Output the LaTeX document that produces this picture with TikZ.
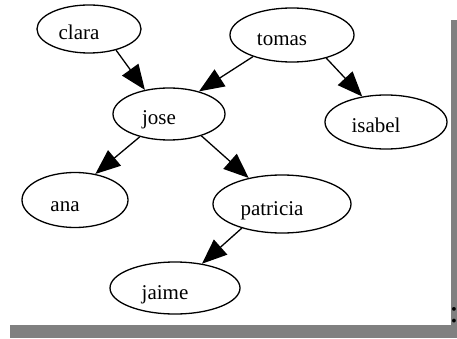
\documentclass[tikz,border=0pt]{standalone}
\usepackage{fontspec}
\setmainfont{Liberation Serif}
\usetikzlibrary{shapes.geometric, arrows.meta}
\definecolor{shadow}{RGB}{128,128,128}

\begin{document}
\begin{tikzpicture}[x=1pt, y=-1pt,
        person/.style = {draw, ellipse, line width=1.3pt, inner sep=0pt,
            font=\fontsize{21}{25}\selectfont, text height=22pt, text depth=0pt,
            execute at end node=\hspace{20pt}},
        link/.style = {->, line width=1.3pt},
        >={Triangle[length=25pt, width=20pt]}]
        \useasboundingbox (0,0) rectangle (457,339);
        % frame shadow
        \fill[shadow] (451,20) rectangle (457,325);
        \fill[shadow] (10,325) rectangle (457,338);
        \node (dots) at (454,315) {\fontsize{32}{36}\selectfont :};
        % people
        \node[person, minimum width=104pt, minimum height=48pt] (clara) at (89,29) {clara};
        \node[person, minimum width=124pt, minimum height=54pt] (tomas) at (292,35) {tomas};
        \node[person, minimum width=112pt, minimum height=52pt] (jose) at (169,114) {jose};
        \node[person, minimum width=122pt, minimum height=54pt] (isabel) at (386,122) {isabel};
        \node[person, minimum width=106pt, minimum height=55pt] (ana) at (75,200) {ana};
        \node[person, minimum width=138pt, minimum height=58pt] (patricia) at (282,204) {patricia};
        \node[person, minimum width=130pt, minimum height=52pt] (jaime) at (175,288) {jaime};
        % relations
        \draw[link] (clara.-38) -- (jose.135);
        \draw[link] (tomas.-151) -- (jose.37);
        \draw[link] (tomas.-34) -- (isabel.133);
        \draw[link] (jose.-142) -- (ana.52);
        \draw[link] (jose.-34) -- (patricia.142);
        \draw[link] (patricia.-149) -- (jaime.42);
    \end{tikzpicture}
\end{document}
